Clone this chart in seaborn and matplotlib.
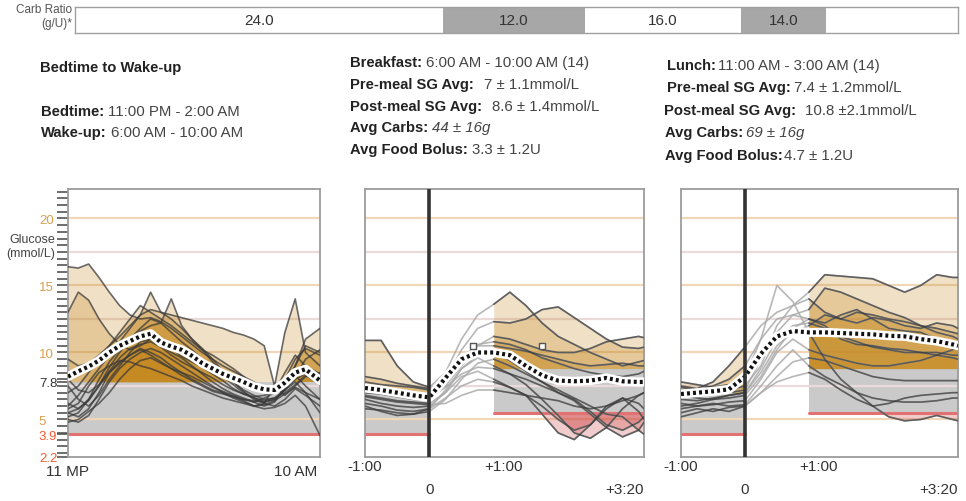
import numpy as np
import pandas as pd
import matplotlib
matplotlib.use("Agg")
import matplotlib.pyplot as plt
import matplotlib.transforms as mtransforms
import seaborn as sns

# ---------------- data ----------------
# carb ratio schedule (start hour of each block, g/U)
carb_start_h = [0, 10, 13.85, 18.1, 20.4]
carb_labels = ["24.0", "12.0", "16.0", "14.0", ""]
carb_shaded = [False, True, False, True, False]

# overnight: hours after 11 PM
night_hours = np.append(np.arange(0, 12, 0.5), 12.2)
night_sg = {
    1: [16.4, 16.3, 16.6, 15.6, 14.5, 13.5, 12.8, 12.5, 12.6, 12.3, 11.8, 11.2, 10.6, 10.0, 9.5, 9.0, 8.6, 8.2, 7.8, 7.3, 7.0, 7.2, 8.0, 8.4, 8.1],
    2: [13.0, 14.5, 13.9, 12.5, 11.4, 10.6, 10.2, 10.5, 11.0, 10.8, 10.3, 9.7, 9.3, 8.9, 8.4, 7.9, 7.3, 6.9, 6.6, 6.4, 6.6, 7.2, 7.8, 7.0, 6.5],
    3: [7.0, 7.5, 8.5, 9.5, 10.5, 11.2, 12.0, 12.8, 13.2, 13.0, 12.8, 12.6, 12.4, 12.2, 12.0, 11.8, 11.5, 11.3, 11.0, 10.5, 7.5, 6.8, 7.5, 8.2, 8.5],
    4: [5.5, 5.8, 6.5, 7.5, 8.5, 9.2, 9.8, 10.3, 10.0, 9.6, 9.0, 8.5, 8.0, 7.6, 7.2, 7.0, 6.7, 6.4, 6.0, 6.2, 7.5, 11.5, 14.0, 10.0, 9.0],
    5: [6.0, 6.8, 7.8, 8.8, 9.8, 10.8, 11.8, 12.8, 14.5, 13.0, 12.5, 11.8, 11.0, 10.3, 9.5, 8.6, 7.8, 7.2, 6.8, 6.5, 6.6, 7.0, 7.6, 8.3, 7.6],
    6: [5.2, 5.5, 6.5, 8.0, 9.3, 10.2, 11.0, 11.6, 12.0, 12.2, 14.0, 12.0, 11.0, 10.2, 9.3, 8.5, 7.8, 7.1, 6.5, 6.2, 6.0, 6.5, 7.3, 6.8, 6.0],
    7: [5.0, 4.8, 5.3, 6.5, 7.8, 8.8, 9.5, 10.0, 10.3, 10.0, 9.5, 9.0, 8.5, 8.0, 7.5, 7.0, 6.6, 6.3, 6.0, 5.8, 5.9, 6.2, 6.8, 6.0, 3.8],
    8: [5.5, 5.2, 5.8, 7.0, 8.5, 9.3, 9.8, 10.2, 9.8, 9.3, 8.8, 8.3, 7.9, 7.5, 7.1, 6.9, 6.7, 6.5, 6.3, 6.6, 7.0, 8.0, 9.5, 10.3, 9.8],
    9: [7.5, 6.5, 6.0, 6.8, 8.0, 9.0, 10.0, 10.8, 11.0, 10.5, 10.0, 9.6, 9.0, 8.4, 7.8, 7.3, 6.9, 6.6, 6.3, 6.0, 6.3, 7.4, 9.0, 11.0, 11.8],
    10: [6.2, 5.8, 6.4, 7.5, 8.9, 10.0, 11.0, 11.8, 12.5, 12.2, 11.5, 10.8, 10.2, 9.5, 8.8, 8.2, 7.6, 7.0, 6.6, 6.3, 6.5, 7.2, 8.2, 9.5, 10.2],
    11: [9.5, 9.0, 9.2, 9.8, 10.5, 11.5, 12.5, 13.5, 13.0, 12.5, 12.0, 11.4, 10.8, 10.2, 9.8, 9.3, 8.8, 8.2, 7.5, 7.0, 7.0, 7.8, 9.0, 10.5, 10.0],
    12: [8.0, 7.2, 7.0, 7.6, 8.6, 9.6, 10.3, 10.6, 10.8, 10.4, 9.8, 9.3, 8.9, 8.5, 8.1, 7.6, 7.2, 6.9, 6.7, 6.8, 7.1, 8.5, 9.8, 9.0, 8.4],
    13: [5.8, 6.2, 7.5, 8.5, 9.0, 9.4, 9.3, 9.0, 8.8, 8.5, 8.2, 7.9, 7.5, 7.2, 6.9, 6.6, 6.4, 6.2, 6.0, 6.1, 6.4, 6.9, 7.4, 7.0, 5.5],
    14: [4.8, 5.0, 5.6, 6.2, 7.0, 8.0, 8.8, 9.4, 9.6, 9.2, 8.8, 8.5, 8.2, 7.8, 7.4, 7.1, 6.8, 6.5, 6.4, 6.3, 6.5, 7.2, 8.3, 7.5, 6.5],
}
night_mean = [8.2, 8.6, 8.95, 9.4, 10.0, 10.5, 10.85, 11.2, 11.4, 10.75, 10.45, 10.2, 9.75,
              9.2, 8.8, 8.4, 8.1, 7.8, 7.45, 7.25, 7.2, 7.75, 8.5, 8.75, 7.9]

# meals: hours relative to the food bolus
meal_hours = np.append(np.arange(-1, 3.3, 0.25), 10 / 3)
breakfast_sg = {
    1: [10.9, 10.9, 9.0, 7.8, 7.4, 8.5, 11.0, 12.8, 13.6, 14.5, 13.5, 12.2, 11.2, 10.6, 10.0, 9.5, 9.0, 9.3, 9.4],
    2: [8.2, 8.0, 7.7, 7.5, 7.3, 8.0, 10.2, 11.8, 12.3, 12.2, 12.5, 13.2, 13.4, 12.6, 11.8, 11.0, 10.4, 10.3, 10.4],
    3: [7.8, 7.6, 7.5, 7.4, 7.2, 7.5, 9.0, 10.5, 11.2, 11.0, 10.6, 10.2, 10.0, 10.0, 10.3, 10.8, 11.0, 11.2, 11.1],
    4: [7.4, 7.3, 7.2, 7.0, 6.9, 7.5, 9.6, 10.5, 10.5, 10.3, 10.1, 9.8, 9.5, 9.2, 9.0, 9.1, 9.2, 9.0, 9.0],
    5: [6.8, 6.6, 6.4, 6.3, 6.2, 7.0, 8.2, 8.6, 8.0, 7.4, 6.8, 6.0, 5.0, 4.2, 4.6, 5.8, 6.6, 6.2, 5.8],
    6: [6.5, 6.2, 6.0, 5.9, 6.0, 7.0, 8.8, 9.6, 9.0, 8.4, 7.6, 6.5, 5.3, 4.0, 3.6, 4.4, 5.8, 6.8, 7.0],
    7: [6.2, 6.0, 5.7, 5.6, 5.8, 6.6, 7.5, 8.0, 7.8, 7.4, 6.8, 5.4, 4.0, 3.5, 4.6, 6.0, 6.6, 5.6, 5.0],
    8: [5.8, 5.7, 5.5, 5.4, 5.6, 6.5, 8.0, 9.2, 9.5, 9.0, 8.4, 7.8, 7.0, 6.4, 5.4, 4.4, 3.7, 4.2, 4.8],
    9: [6.0, 5.6, 5.3, 5.4, 5.8, 7.2, 8.8, 9.8, 10.0, 9.4, 8.6, 7.8, 7.2, 6.6, 6.0, 5.4, 5.2, 4.2, 3.9],
    10: [7.0, 6.9, 6.7, 6.5, 6.5, 7.8, 9.6, 10.6, 10.8, 10.6, 10.2, 9.6, 9.2, 8.8, 8.5, 8.3, 8.2, 8.4, 8.6],
    11: [6.7, 6.5, 6.3, 6.2, 6.1, 6.2, 6.8, 7.2, 7.2, 7.0, 6.8, 6.6, 6.4, 6.0, 5.8, 6.0, 6.4, 6.8, 7.0],
    12: [7.2, 7.0, 6.9, 6.7, 6.6, 7.4, 8.4, 8.9, 8.8, 8.4, 8.0, 7.5, 7.0, 6.5, 5.6, 4.6, 4.2, 4.8, 5.2],
}
breakfast_mean = [7.35, 7.2, 7.0, 6.8, 6.65, 8.1, 9.5, 10.0, 10.0, 9.8, 9.0, 8.3, 7.9, 7.85, 7.9, 8.1, 7.85, 7.8, 7.8]
breakfast_mark_h = [0.68, 1.75]
breakfast_mark_sg = [10.5, 10.5]

lunch_sg = {
    1: [7.5, 7.3, 7.8, 9.0, 10.4, 12.0, 13.0, 13.5, 14.5, 15.8, 15.7, 15.6, 15.5, 15.0, 14.5, 15.0, 15.8, 15.6, 15.6],
    2: [7.8, 7.6, 7.4, 7.6, 8.2, 11.0, 15.0, 13.8, 11.5, 9.5, 8.0, 7.0, 6.0, 5.2, 4.9, 5.0, 5.3, 5.0, 4.9],
    3: [7.2, 7.0, 7.1, 7.2, 7.5, 9.0, 12.0, 13.5, 14.0, 13.0, 12.5, 13.0, 12.8, 12.5, 12.3, 12.0, 11.5, 11.2, 11.0],
    4: [7.0, 6.8, 6.9, 7.0, 7.2, 9.5, 11.5, 12.8, 13.2, 14.8, 14.5, 14.0, 13.5, 13.0, 12.6, 12.0, 11.8, 11.5, 11.4],
    5: [6.5, 6.4, 6.6, 6.8, 7.0, 8.5, 10.5, 11.5, 12.0, 12.8, 12.5, 12.2, 12.6, 12.4, 12.0, 11.8, 12.2, 12.0, 11.8],
    6: [6.2, 6.0, 6.1, 6.3, 6.4, 8.0, 10.0, 11.0, 10.2, 9.8, 9.5, 9.2, 9.0, 9.0, 9.2, 9.4, 9.8, 10.2, 10.4],
    7: [5.8, 6.0, 6.2, 6.0, 6.1, 7.5, 9.0, 10.2, 9.0, 8.2, 7.6, 7.0, 6.6, 6.4, 6.3, 6.3, 6.4, 6.6, 6.6],
    8: [5.5, 5.8, 5.6, 5.9, 6.0, 7.0, 8.2, 9.3, 9.6, 9.4, 9.0, 8.6, 8.2, 8.0, 7.9, 7.9, 7.9, 7.9, 7.9],
    9: [6.8, 6.6, 6.5, 6.6, 6.8, 8.2, 10.2, 11.8, 12.5, 12.0, 11.0, 10.6, 10.5, 10.3, 10.2, 10.0, 9.8, 9.6, 9.5],
    10: [5.2, 5.5, 5.8, 5.6, 6.0, 7.0, 7.8, 8.2, 8.5, 8.0, 7.2, 6.5, 6.0, 6.2, 6.6, 6.8, 6.9, 7.0, 7.0],
    11: [7.4, 7.2, 7.5, 8.0, 9.0, 11.0, 12.5, 12.8, 12.5, 12.2, 12.8, 13.2, 12.5, 11.8, 11.6, 11.5, 11.0, 10.8, 10.6],
    12: [6.0, 6.2, 6.5, 6.8, 7.0, 8.8, 11.0, 12.0, 12.2, 11.8, 11.2, 10.8, 10.4, 10.2, 10.0, 10.0, 10.0, 9.8, 9.8],
}
lunch_mean = [6.9, 7.0, 7.1, 7.25, 8.2, 9.9, 11.2, 11.6, 11.5, 11.5, 11.45, 11.4, 11.35, 11.25, 11.2, 11.0, 10.85, 10.6, 10.5]

# glucose targets (mmol/L)
night_target = (3.9, 7.8)
pre_meal_target = (3.9, 7.0)
post_meal_target = (5.5, 8.8)

y_ticks = [20, 15, 10, 7.8, 5, 3.9, 2.2]
y_tick_colors = ["#d9a050", "#d9a050", "#d9a050", "#333333", "#d9a050", "#f05a30", "#f05a30"]

# ---------------- style ----------------
sns.set_theme(style="white")
plt.rcParams["font.family"] = ["Liberation Sans", "DejaVu Sans"]

TAN = "#c68a22"
GREY_BAND = "#cacaca"
RED = "#e27272"
RED_FILL = "#d04848"
TRACE = "#3a3a3a"
LIGHT_TRACE = "#ababab"
FRAME = "#9c9c9c"
GRID = [(20, "#f1d6b8"), (17.5, "#eadada"), (15, "#f1d6b8"), (12.5, "#eadada"),
        (10, "#f1d6b8"), (7.5, "#eadada"), (5, "#f1d6b8")]

W, H = 966, 502
fig = plt.figure(figsize=(W / 100, H / 100), dpi=100)
fig.patch.set_facecolor("white")


def px_axes(left, top, right, bottom):
    return fig.add_axes([left / W, 1 - bottom / H, (right - left) / W, (bottom - top) / H])


def to_long(hours, traces):
    rows = [(day, h, v) for day, vals in traces.items() for h, v in zip(hours, vals)]
    return pd.DataFrame(rows, columns=["day", "hour", "sg"])


def frame(ax):
    for sp in ax.spines.values():
        sp.set_color(FRAME)
        sp.set_linewidth(1.3)
        sp.set_visible(True)


def gridlines(ax):
    for level, col in GRID:
        ax.axhline(level, color=col, lw=1.6, zorder=1.5)


def fill_traces(ax, hours, traces, mask, target, low_fill=False):
    lo, hi = target
    x = hours[mask]
    for vals in traces.values():
        y = np.asarray(vals, dtype=float)[mask]
        ax.fill_between(x, hi, y, where=y > hi, interpolate=True,
                        color=TAN, alpha=0.26, lw=0, zorder=2)
        if low_fill:
            ax.fill_between(x, lo, y, where=y < lo, interpolate=True,
                            color=RED_FILL, alpha=0.28, lw=0, zorder=2)


def mean_line(ax, hours, mean):
    sns.lineplot(x=hours, y=mean, color="white", lw=6.5, ax=ax, zorder=4,
                 solid_capstyle="round")
    sns.lineplot(x=hours, y=mean, color="#111111", lw=3.0, ax=ax, zorder=5,
                 linestyle=(0, (0.7, 0.75)), dash_capstyle="butt")


# ---------------- carb ratio strip ----------------
ax_c = px_axes(75, 8, 958, 34)
widths = np.diff(carb_start_h + [24])
ax_c.barh(0, widths, left=carb_start_h, height=1.0,
          color=["#a7a7a7" if s else "white" for s in carb_shaded], edgecolor="none")
for s, w, lab in zip(carb_start_h, widths, carb_labels):
    ax_c.text(s + w / 2, 0, lab, ha="center", va="center", fontsize=11, color="#333333")
ax_c.set_xlim(0, 24)
ax_c.set_ylim(-0.5, 0.5)
ax_c.set_xticks([])
ax_c.set_yticks([])
for sp in ax_c.spines.values():
    sp.set_color("#a0a0a0")
    sp.set_linewidth(1.0)
fig.text(72 / W, 1 - 10 / H, "Carb Ratio", ha="right", va="center", fontsize=8.5, color="#555555")
fig.text(72 / W, 1 - 24 / H, "(g/U)*", ha="right", va="center", fontsize=8.5, color="#555555")

# ---------------- overnight panel ----------------
ax1 = px_axes(68, 190, 320, 458)
ax1.fill_between([0, 12.2], *night_target, color=GREY_BAND, lw=0, zorder=1)
gridlines(ax1)
fill_traces(ax1, night_hours, night_sg, np.ones(len(night_hours), bool), night_target, low_fill=True)
ax1.plot([0, 12.2], [night_target[0]] * 2, color=RED, lw=2.2, zorder=2.5)
sns.lineplot(data=to_long(night_hours, night_sg), x="hour", y="sg", units="day",
             estimator=None, color=TRACE, lw=1.2, alpha=0.75, ax=ax1, legend=False, zorder=3)
mean_line(ax1, night_hours, night_mean)
ax1.set_xlim(0, 12.2)
ax1.set_ylim(2.2, 22.2)
ax1.set(xlabel="", ylabel="")
frame(ax1)
ax1.set_xticks([0, 2.2, 4.4, 6.6, 8.8, 11])
ax1.set_xticklabels(["11 MP", "", "", "", "", "10 AM"], fontsize=11, color="#333333")
ax1.tick_params(axis="x", direction="in", length=4, width=1, color="#888888", pad=5)
ax1.set_yticks(y_ticks)
ax1.set_yticklabels([f"{v:g}" for v in y_ticks], fontsize=9.5)
ax1.set_yticks(np.arange(2.5, 22.2, 0.5), minor=True)
ax1.tick_params(axis="y", which="both", direction="out", length=8, width=1.2,
                color="#555555", pad=13, left=True)
for lbl, col in zip(ax1.get_yticklabels(), y_tick_colors):
    lbl.set_color(col)
    lbl.set_horizontalalignment("left")
fig.text(55 / W, 1 - 247 / H, "Glucose\n(mmol/L)", ha="right", va="center",
         multialignment="right", fontsize=9, color="#444444", linespacing=1.25)


# ---------------- meal panels ----------------
def meal_panel(ax, traces, mean):
    pre = meal_hours <= 0
    post = meal_hours >= 1
    ax.fill_between(meal_hours[pre], *pre_meal_target, color=GREY_BAND, lw=0, zorder=1)
    ax.fill_between(meal_hours[post], *post_meal_target, color=GREY_BAND, lw=0, zorder=1)
    gridlines(ax)
    fill_traces(ax, meal_hours, traces, pre, pre_meal_target)
    fill_traces(ax, meal_hours, traces, post, post_meal_target, low_fill=True)
    ax.plot([-1, 0], [pre_meal_target[0]] * 2, color=RED, lw=2.2, zorder=2.5)
    ax.plot([1, 10 / 3], [post_meal_target[0]] * 2, color=RED, lw=2.2, zorder=2.5)
    df = to_long(meal_hours, traces)
    sns.lineplot(data=df, x="hour", y="sg", units="day", estimator=None,
                 color=LIGHT_TRACE, lw=1.2, alpha=0.85, ax=ax, legend=False, zorder=3)
    for part in (df[df.hour <= 0], df[df.hour >= 1]):
        sns.lineplot(data=part, x="hour", y="sg", units="day", estimator=None,
                     color=TRACE, lw=1.2, alpha=0.7, ax=ax, legend=False, zorder=3.2)
    mean_line(ax, meal_hours, mean)
    ax.axvline(0, color="#333333", lw=2.6, zorder=6)
    ax.set_xlim(-1, 10 / 3)
    ax.set_ylim(2.2, 22.2)
    ax.set(xlabel="", ylabel="")
    ax.set_xticks([])
    ax.set_yticks([])
    frame(ax)
    tr = ax.get_xaxis_transform()
    shift = mtransforms.offset_copy(tr, fig=fig, x=10, y=0, units="dots")
    kw = dict(fontsize=11, color="#333333", va="center")
    ax.text(-1, -0.034, "-1:00", transform=tr, ha="center", **kw)
    ax.text(1, -0.034, "+1:00", transform=shift, ha="center", **kw)
    ax.text(0, -0.12, "0", transform=tr, ha="center", **kw)
    ax.text(10 / 3, -0.12, "+3:20", transform=tr, ha="right", **kw)


ax2 = px_axes(365, 190, 644, 458)
meal_panel(ax2, breakfast_sg, breakfast_mean)
ax2.scatter(breakfast_mark_h, breakfast_mark_sg, marker="s", s=22, facecolor="white",
            edgecolor="#555555", linewidth=1, zorder=7)

ax3 = px_axes(681, 190, 958, 458)
meal_panel(ax3, lunch_sg, lunch_mean)

# ---------------- header text ----------------
renderer = fig.canvas.get_renderer()


def info_line(x_px, base_px, label, value="", gap=4, italic=False, size=10.8):
    t = fig.text(x_px / W, 1 - base_px / H, label, fontsize=10.6, fontweight="bold",
                 color="#222222", ha="left", va="baseline")
    if value:
        x1 = t.get_window_extent(renderer).x1
        fig.text((x1 + gap) / W, 1 - base_px / H, value, fontsize=size, color="#444444",
                 ha="left", va="baseline", style="italic" if italic else "normal")


info_line(40, 72, "Bedtime to Wake-up")
info_line(41, 116, "Bedtime:", "11:00 PM - 2:00 AM")
info_line(41, 137, "Wake-up:", "6:00 AM - 10:00 AM")

info_line(350, 67, "Breakfast:", "6:00 AM - 10:00 AM (14)")
info_line(350, 89, "Pre-meal SG Avg:", "7 \u00b1 1.1mmol/L", gap=10)
info_line(350, 111, "Post-meal SG Avg:", "8.6 \u00b1 1.4mmol/L", gap=10)
info_line(350, 132, "Avg Carbs:", "44 \u00b1 16g", italic=True)
info_line(350, 154, "Avg Food Bolus:", "3.3 \u00b1 1.2U")

info_line(667, 70, "Lunch:", "11:00 AM - 3:00 AM (14)", gap=2)
info_line(667, 92, "Pre-meal SG Avg:", "7.4 \u00b1 1.2mmol/L", gap=3)
info_line(664, 115, "Post-meal SG Avg:", "10.8 \u00b12.1mmol/L", gap=9)
info_line(665, 137, "Avg Carbs:", "69 \u00b1 16g", italic=True, gap=3)
info_line(665, 160, "Avg Food Bolus:", "4.7 \u00b1 1.2U", gap=1)

fig.savefig("out.png", dpi=100, facecolor="white")
